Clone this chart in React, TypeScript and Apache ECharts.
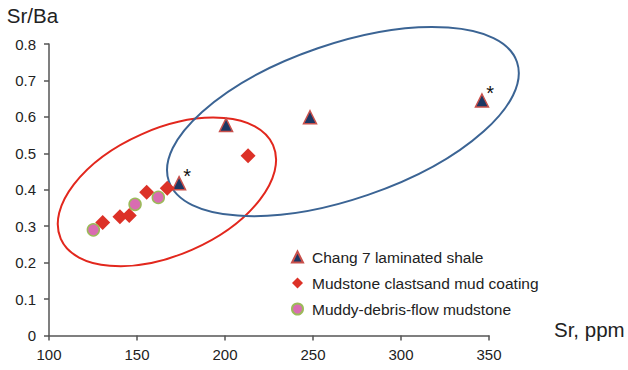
import React, { useEffect, useRef } from "react";
import * as echarts from "echarts";

// Chang 7 laminated shale
const shaleSr = [173.9, 200.6, 248.3, 346];
const shaleSrBa = [0.418, 0.578, 0.599, 0.645];
const shaleMarked = [true, false, false, true];
// Mudstone clasts and mud coating
const clastSr = [130.5, 140.3, 145.6, 155.5, 167.2, 213.1];
const clastSrBa = [0.31, 0.326, 0.329, 0.393, 0.404, 0.493];
// Muddy-debris-flow mudstone
const debrisSr = [125.2, 148.9, 162.1];
const debrisSrBa = [0.29, 0.36, 0.379];

const seriesNames = [
  "Chang 7 laminated shale",
  "Mudstone clastsand mud coating",
  "Muddy-debris-flow mudstone",
];

// Ellipse annotations: centre in data units
const ellipseCentreSr = [167.0, 267.0];
const ellipseCentreSrBa = [0.394, 0.587];
const ellipseStyle = [
  { rx: 116, ry: 63, angle: 23.8, color: "#e2271d" },
  { rx: 184, ry: 77.5, angle: 18.9, color: "#3b6494" },
];

const FONT = "Liberation Sans, Arial, sans-serif";

export default function App() {
  const ref = useRef<HTMLDivElement>(null);
  useEffect(() => {
    if (!ref.current) return;
    const chart = echarts.init(ref.current, null, { renderer: "svg" });
    const shaleData = shaleSr.map((x, i) =>
      shaleMarked[i]
        ? { value: [x, shaleSrBa[i]], label: { show: true } }
        : { value: [x, shaleSrBa[i]] }
    );
    const clastData = clastSr.map((x, i) => [x, clastSrBa[i]]);
    const debrisData = debrisSr.map((x, i) => [x, debrisSrBa[i]]);
    const ellipseData = ellipseCentreSr.map((x, i) => [x, ellipseCentreSrBa[i], i]);

    chart.setOption({
      animation: false,
      textStyle: { fontFamily: FONT },
      grid: { left: 49, right: 139, top: 44, bottom: 34.5 },
      xAxis: {
        type: "value",
        min: 100,
        max: 350,
        interval: 50,
        splitLine: { show: false },
        axisLine: { lineStyle: { color: "#555", width: 1.5 } },
        axisTick: { show: true, inside: false, length: 5, lineStyle: { color: "#555", width: 1.5 } },
        axisLabel: { color: "#222", fontSize: 15, margin: 11, fontFamily: FONT },
        name: "Sr, ppm",
        nameLocation: "end",
        nameGap: 65,
        nameTextStyle: { color: "#222", fontSize: 20.5, fontFamily: FONT, verticalAlign: "bottom", padding: [0, 0, -4, 0] },
      },
      yAxis: {
        type: "value",
        min: 0,
        max: 0.8,
        interval: 0.1,
        splitLine: { show: false },
        axisLine: { show: true, lineStyle: { color: "#555", width: 1.5 } },
        axisTick: { show: true, inside: false, length: 5, lineStyle: { color: "#555", width: 1.5 } },
        axisLabel: { color: "#222", fontSize: 15, margin: 13, fontFamily: FONT },
        name: "Sr/Ba",
        nameLocation: "end",
        nameGap: 18,
        nameTextStyle: { color: "#222", fontSize: 20.5, fontFamily: FONT, align: "center", padding: [0, 33, 0, 0] },
      },
      legend: {
        orient: "vertical",
        left: 286,
        top: 244,
        itemWidth: 11,
        itemHeight: 11,
        itemGap: 10,
        data: seriesNames,
        textStyle: { color: "#222", fontSize: 15.5, fontFamily: FONT, padding: [0, 0, 0, 4] },
      },
      series: [
        {
          type: "custom",
          coordinateSystem: "cartesian2d",
          clip: false,
          silent: true,
          z: 1,
          data: ellipseData,
          renderItem: (params: any, api: any) => {
            const idx = api.value(2);
            const st = ellipseStyle[idx];
            const pt = api.coord([api.value(0), api.value(1)]);
            return {
              type: "ellipse",
              x: pt[0],
              y: pt[1],
              rotation: (st.angle * Math.PI) / 180,
              shape: { cx: 0, cy: 0, rx: st.rx, ry: st.ry },
              style: { fill: "none", stroke: st.color, lineWidth: 2 },
            };
          },
        },
        {
          name: seriesNames[0],
          type: "scatter",
          symbol: "triangle",
          symbolSize: 13,
          z: 3,
          itemStyle: { color: "#1c3763", borderColor: "#c9504b", borderWidth: 1.5, opacity: 1 },
          label: {
            show: false,
            formatter: "*",
            position: "right",
            distance: 0,
            offset: [-3, -7],
            color: "#111",
            fontSize: 20,
            fontFamily: FONT,
          },
          data: shaleData,
        },
        {
          name: seriesNames[1],
          type: "scatter",
          symbol: "diamond",
          symbolSize: 15,
          z: 3,
          itemStyle: { color: "#dc3127", opacity: 1 },
          data: clastData,
        },
        {
          name: seriesNames[2],
          type: "scatter",
          symbol: "circle",
          symbolSize: 12,
          z: 3,
          itemStyle: { color: "#d96cb1", borderColor: "#9bbb59", borderWidth: 1.5, opacity: 1 },
          data: debrisData,
        },
      ],
    });
    return () => chart.dispose();
  }, []);
  return (
    <div
      ref={ref}
      style={{ position: "fixed", left: 0, top: 0, width: 628, height: 370, background: "#fff" }}
    />
  );
}
